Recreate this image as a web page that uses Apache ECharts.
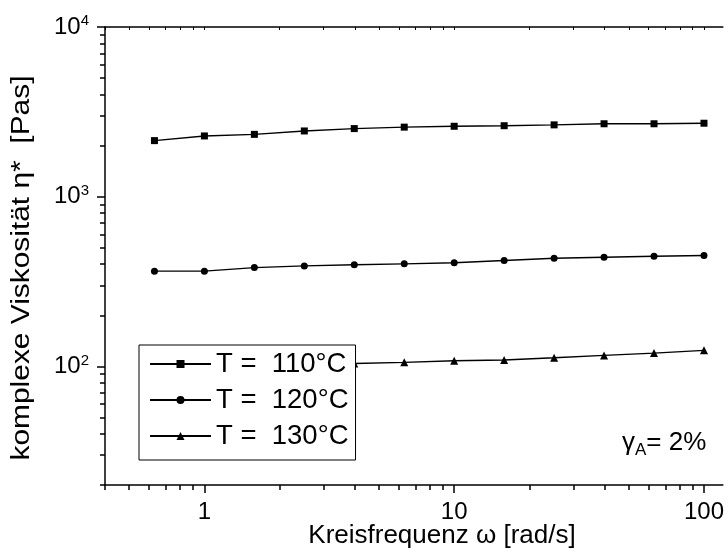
<!DOCTYPE html>
<html>
<head>
<meta charset="utf-8">
<script src="https://cdn.jsdelivr.net/npm/echarts@6/dist/echarts.min.js"></script>
<style>
html,body{margin:0;padding:0;background:#fff;}
#c{width:727px;height:551px;}
</style>
</head>
<body>
<div id="c"></div>
<script>
// Angular frequency ω [rad/s]
const freq = [0.631, 1, 1.585, 2.512, 3.981, 6.310, 10, 15.85, 25.12, 39.81, 63.10, 100];
// complex viscosity η* [Pa s]
const eta110 = [2140, 2280, 2330, 2440, 2520, 2570, 2600, 2620, 2650, 2690, 2690, 2710];
const eta120 = [364, 364, 382, 391, 397, 402, 408, 421, 434, 440, 446, 450];
const eta130 = [97, 99, 100, 102, 104, 105.6, 107.9, 109, 112.4, 116.1, 119.8, 124.3];
const seriesNames = ['T =  110°C', 'T =  120°C', 'T =  130°C'];
const seriesSymbols = ['rect', 'circle', 'triangle'];

const xMajor = [1, 10, 100];
const xMinor = [0.4, 0.5, 0.6, 0.7, 0.8, 0.9, 2, 3, 4, 5, 6, 7, 8, 9, 20, 30, 40, 50, 60, 70, 80, 90];
const yMajor = [100, 1000, 10000];
const yMinor = [20, 30, 40, 50, 60, 70, 80, 90, 200, 300, 400, 500, 600, 700, 800, 900, 2000, 3000, 4000, 5000, 6000, 7000, 8000, 9000];

const FONT = 'Liberation Sans, Arial, sans-serif';
const chart = echarts.init(document.getElementById('c'), null, {renderer: 'canvas'});

const allEta = [eta110, eta120, eta130];
const series = allEta.map((arr, k) => ({
  name: seriesNames[k],
  type: 'line',
  xAxisIndex: 0,
  yAxisIndex: 0,
  symbol: seriesSymbols[k],
  symbolSize: k === 2 ? 8 : 7,
  showSymbol: true,
  data: freq.map((f, i) => [f, arr[i]]),
  lineStyle: {color: '#000', width: 1.4},
  itemStyle: {color: '#000'},
  animation: false,
  silent: true
}));

const axisLineStyle = {color: '#000', width: 1.5};
const X_MIN = 0.4, X_MAX = 119;

chart.setOption({
  animation: false,
  backgroundColor: '#fff',
  grid: {left: 105, top: 27, right: 0, bottom: 66},
  xAxis: [
    {
      type: 'log', logBase: 10, min: X_MIN, max: X_MAX, position: 'bottom',
      axisLine: {show: true, lineStyle: axisLineStyle},
      axisTick: {show: true, inside: false, length: 8, lineStyle: axisLineStyle, customValues: xMajor},
      axisLabel: {show: true, customValues: xMajor, margin: 15, color: '#000', fontFamily: FONT, fontSize: 24,
        formatter: v => String(Math.round(v))},
      splitLine: {show: false}, minorTick: {show: false}
    },
    {
      type: 'log', logBase: 10, min: X_MIN, max: X_MAX, position: 'bottom',
      axisLine: {show: false},
      axisTick: {show: true, inside: false, length: 5, lineStyle: axisLineStyle, customValues: xMinor},
      axisLabel: {show: false},
      splitLine: {show: false}
    },
    {
      type: 'log', logBase: 10, min: X_MIN, max: X_MAX, position: 'top',
      axisLine: {show: true, lineStyle: axisLineStyle},
      axisTick: {show: true, inside: true, length: 3, lineStyle: {color: '#000', width: 1}, customValues: xMajor.concat(xMinor)},
      axisLabel: {show: false},
      splitLine: {show: false}
    }
  ],
  yAxis: [
    {
      type: 'log', logBase: 10, min: 20, max: 10000, position: 'left',
      axisLine: {show: true, lineStyle: axisLineStyle},
      axisTick: {show: true, inside: false, length: 8, lineStyle: axisLineStyle, customValues: yMajor},
      axisLabel: {show: true, customValues: yMajor, margin: 16, color: '#000', fontFamily: FONT,
        formatter: v => '{b|10}{s|' + Math.round(Math.log10(v)) + '}',
        rich: {
          b: {fontSize: 24, fontFamily: FONT, color: '#000'},
          s: {fontSize: 15, fontFamily: FONT, color: '#000', verticalAlign: 'top', padding: [0, 0, 12, 0]}
        }},
      splitLine: {show: false}
    },
    {
      type: 'log', logBase: 10, min: 20, max: 10000, position: 'left',
      axisLine: {show: false},
      axisTick: {show: true, inside: false, length: 5, lineStyle: axisLineStyle, customValues: yMinor},
      axisLabel: {show: false},
      splitLine: {show: false}
    }
  ],
  legend: {
    show: true,
    orient: 'vertical',
    left: 139, top: 345,
    padding: [5, 7, 10, 10],
    itemWidth: 61, itemHeight: 10, itemGap: 8,
    backgroundColor: '#fff',
    borderColor: '#000', borderWidth: 1,
    selectedMode: false,
    textStyle: {color: '#000', fontFamily: FONT, fontSize: 27.5, lineHeight: 27},
    data: seriesNames
  },
  graphic: [
    {
      type: 'text', x: 22, y: 268, rotation: Math.PI / 2, scaleX: 1.15, scaleY: 1,
      style: {text: 'komplexe Viskosität η*  [Pas]', fontFamily: FONT, fontSize: 26, fill: '#000',
        align: 'center', verticalAlign: 'middle'}
    },
    {
      type: 'text', x: 442, y: 536,
      style: {text: 'Kreisfrequenz ω [rad/s]', fontFamily: FONT, fontSize: 26, fill: '#000',
        align: 'center', verticalAlign: 'middle'}
    },
    {
      type: 'text', x: 622, y: 443,
      style: {
        text: '{g|γ}{a|A}{n|= 2%}',
        verticalAlign: 'middle',
        rich: {
          g: {fontSize: 26, fontFamily: FONT, color: '#000'},
          a: {fontSize: 17, fontFamily: FONT, color: '#000', verticalAlign: 'bottom', padding: [14, 0, 0, 0]},
          n: {fontSize: 26, fontFamily: FONT, color: '#000'}
        }
      }
    }
  ],
  series: series
});
</script>
</body>
</html>
